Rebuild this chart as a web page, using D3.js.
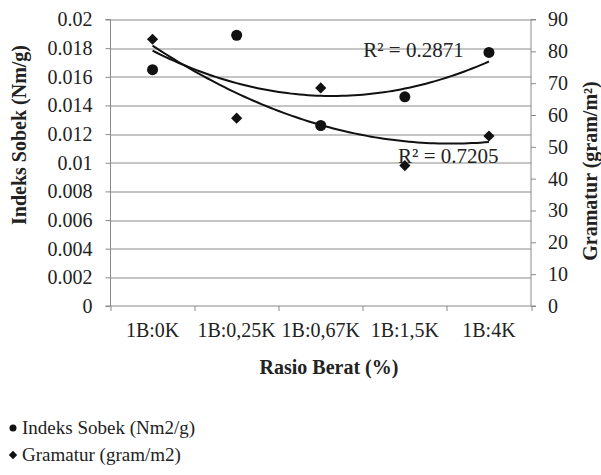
<!DOCTYPE html>
<html>
<head>
<meta charset="utf-8">
<script src="https://cdn.jsdelivr.net/npm/d3@7"></script>
</head>
<body style="margin:0">
<script>
// categories on the x axis
var categories = ["1B:0K", "1B:0,25K", "1B:0,67K", "1B:1,5K", "1B:4K"];

// Indeks Sobek (circles, left axis)
var indeksSobek = [0.0165, 0.0189, 0.0126, 0.0146, 0.0177];

// Gramatur (diamonds, right axis)
var gramatur = [83.8, 59.0, 68.5, 44.1, 53.4];

// tick labels
var leftTicks = [0, 0.002, 0.004, 0.006, 0.008, 0.01, 0.012, 0.014, 0.016, 0.018, 0.02];
var leftTickLabels = ["0", "0.002", "0.004", "0.006", "0.008", "0.01", "0.012", "0.014", "0.016", "0.018", "0.02"];
var rightTicks = [0, 10, 20, 30, 40, 50, 60, 70, 80, 90];

var r2Labels = ["R² = 0.2871", "R² = 0.7205"];

var FONT = "'Liberation Serif', 'Times New Roman', serif";
var GRID = "#8a8a8a";

var W = 601, H = 475;
var margin = { top: 19.5, right: 70, bottom: 169, left: 110.5 };
var width = W - margin.left - margin.right,
    height = H - margin.top - margin.bottom;

var svg = d3.select("body").append("svg")
    .attr("width", W)
    .attr("height", H);

var g = svg.append("g")
    .attr("transform", "translate(" + margin.left + "," + margin.top + ")");

var xScale = d3.scaleBand()
    .domain(categories)
    .range([0, width]);

// continuous index scale for the trend lines (1..5 -> band centers)
var xIdx = d3.scaleLinear()
    .domain([1, categories.length])
    .range([xScale(categories[0]) + xScale.bandwidth() / 2,
            xScale(categories[categories.length - 1]) + xScale.bandwidth() / 2]);

var yLeft = d3.scaleLinear().domain([0, 0.02]).range([height, 0]);
var yRight = d3.scaleLinear().domain([0, 90]).range([height, 0]);

function styleTicks(sel) {
    sel.attr("font-family", null).attr("font-size", null);
    sel.selectAll("line").attr("stroke", GRID);
    sel.select(".domain").attr("stroke", GRID);
}

// gridlines
g.append("g")
    .selectAll("line")
    .data(leftTicks.slice(1))
    .enter().append("line")
    .attr("x1", 0).attr("x2", width)
    .attr("y1", function (d) { return Math.round(yLeft(d)) + 0.5; })
    .attr("y2", function (d) { return Math.round(yLeft(d)) + 0.5; })
    .attr("stroke", GRID);

// left axis
var yAxisL = d3.axisLeft(yLeft)
    .tickValues(leftTicks)
    .tickFormat(function (d, i) { return leftTickLabels[i]; })
    .tickSize(5).tickPadding(13);
g.append("g")
    .call(yAxisL)
    .call(function (s) { s.select(".domain").attr("d", "M-5," + height + "H0V0H-5"); })
    .call(styleTicks);

// right axis
var yAxisR = d3.axisRight(yRight)
    .tickValues(rightTicks)
    .tickSize(5).tickPadding(12);
g.append("g")
    .attr("transform", "translate(" + width + ",0)")
    .call(yAxisR)
    .call(function (s) { s.select(".domain").attr("d", "M5," + height + "H0V0H5"); })
    .call(styleTicks);

// bottom axis: labels at band centers, ticks at band edges
var xAxis = d3.axisBottom(xScale).tickSize(0).tickPadding(17);
var xg = g.append("g")
    .attr("transform", "translate(0," + height + ")")
    .call(xAxis);
xg.select(".domain").attr("d", "M0,0H" + width);
xg.selectAll(".edge")
    .data(categories.concat(["end"]))
    .enter().append("line")
    .attr("class", "edge")
    .attr("x1", function (d, i) { return Math.round(i * xScale.bandwidth()) + 0.5; })
    .attr("x2", function (d, i) { return Math.round(i * xScale.bandwidth()) + 0.5; })
    .attr("y1", 0).attr("y2", 5);
xg.call(styleTicks);

// quadratic least-squares fit (Excel polynomial trendline, order 2)
function quadFit(ys) {
    var n = ys.length, sx = 0, sx2 = 0, sx3 = 0, sx4 = 0, sy = 0, sxy = 0, sx2y = 0;
    ys.forEach(function (y, i) {
        var x = i + 1;
        sx += x; sx2 += x * x; sx3 += x * x * x; sx4 += x * x * x * x;
        sy += y; sxy += x * y; sx2y += x * x * y;
    });
    var M = [[n, sx, sx2, sy], [sx, sx2, sx3, sxy], [sx2, sx3, sx4, sx2y]];
    for (var c = 0; c < 3; c++) {
        for (var r = c + 1; r < 3; r++) {
            var f = M[r][c] / M[c][c];
            for (var k = c; k < 4; k++) M[r][k] -= f * M[c][k];
        }
    }
    var b = [0, 0, 0];
    for (var r2 = 2; r2 >= 0; r2--) {
        var s = M[r2][3];
        for (var k2 = r2 + 1; k2 < 3; k2++) s -= M[r2][k2] * b[k2];
        b[r2] = s / M[r2][r2];
    }
    return function (x) { return b[0] + b[1] * x + b[2] * x * x; };
}

var xs = d3.range(1, 5.001, 0.05);
var fitSobek = quadFit(indeksSobek);
var fitGram = quadFit(gramatur);

g.append("path")
    .datum(xs)
    .attr("fill", "none").attr("stroke", "#111").attr("stroke-width", 2)
    .attr("d", d3.line()
        .x(function (d) { return xIdx(d); })
        .y(function (d) { return yLeft(fitSobek(d)); }));

g.append("path")
    .datum(xs)
    .attr("fill", "none").attr("stroke", "#111").attr("stroke-width", 2)
    .attr("d", d3.line()
        .x(function (d) { return xIdx(d); })
        .y(function (d) { return yRight(fitGram(d)); }));

function cx(d, i) { return xScale(categories[i]) + xScale.bandwidth() / 2; }

// diamonds: Gramatur
g.selectAll(".gram")
    .data(gramatur)
    .enter().append("path")
    .attr("class", "gram")
    .attr("d", d3.symbol().type(d3.symbolDiamond2).size(80))
    .attr("transform", function (d, i) { return "translate(" + cx(d, i) + "," + yRight(d) + ")"; })
    .attr("fill", "#111");

// circles: Indeks Sobek
g.selectAll(".sobek")
    .data(indeksSobek)
    .enter().append("circle")
    .attr("class", "sobek")
    .attr("cx", cx)
    .attr("cy", function (d) { return yLeft(d); })
    .attr("r", 5.5)
    .attr("fill", "#111");

// R² labels (placed like Excel's trendline labels)
g.append("text")
    .attr("class", "r2")
    .attr("x", xIdx(4.7)).attr("y", yLeft(0.01738))
    .attr("text-anchor", "end")
    .text(r2Labels[0]);
g.append("text")
    .attr("class", "r2")
    .attr("x", xIdx(3.92)).attr("y", yRight(45))
    .attr("text-anchor", "start")
    .text(r2Labels[1]);

// axis titles
svg.append("text")
    .attr("class", "title")
    .attr("transform", "translate(26,135) rotate(-90)")
    .attr("text-anchor", "middle")
    .text("Indeks Sobek (Nm/g)");

svg.append("text")
    .attr("class", "title")
    .attr("transform", "translate(597,171) rotate(-90)")
    .attr("text-anchor", "middle")
    .text("Gramatur (gram/m²)");

svg.append("text")
    .attr("class", "title")
    .attr("x", 329).attr("y", 374)
    .attr("text-anchor", "middle")
    .text("Rasio Berat (%)");

// legend
var legend = svg.append("g");
legend.append("circle").attr("cx", 13).attr("cy", 428).attr("r", 3.5).attr("fill", "#111");
legend.append("text").attr("class", "leg").attr("x", 22).attr("y", 434)
    .text("Indeks Sobek (Nm2/g)");
legend.append("path")
    .attr("d", d3.symbol().type(d3.symbolDiamond2).size(45))
    .attr("transform", "translate(13,455)")
    .attr("fill", "#111");
legend.append("text").attr("class", "leg").attr("x", 22).attr("y", 461)
    .text("Gramatur (gram/m2)");

// apply the font to every text
svg.selectAll("text")
    .style("font-family", FONT)
    .style("font-size", "20px")
    .style("fill", "#222");
svg.selectAll("text.title").style("font-weight", "bold");
svg.selectAll("text.r2").style("font-size", "21px");
svg.selectAll("text.leg").style("font-size", "19px");
</script>
</body>
</html>
